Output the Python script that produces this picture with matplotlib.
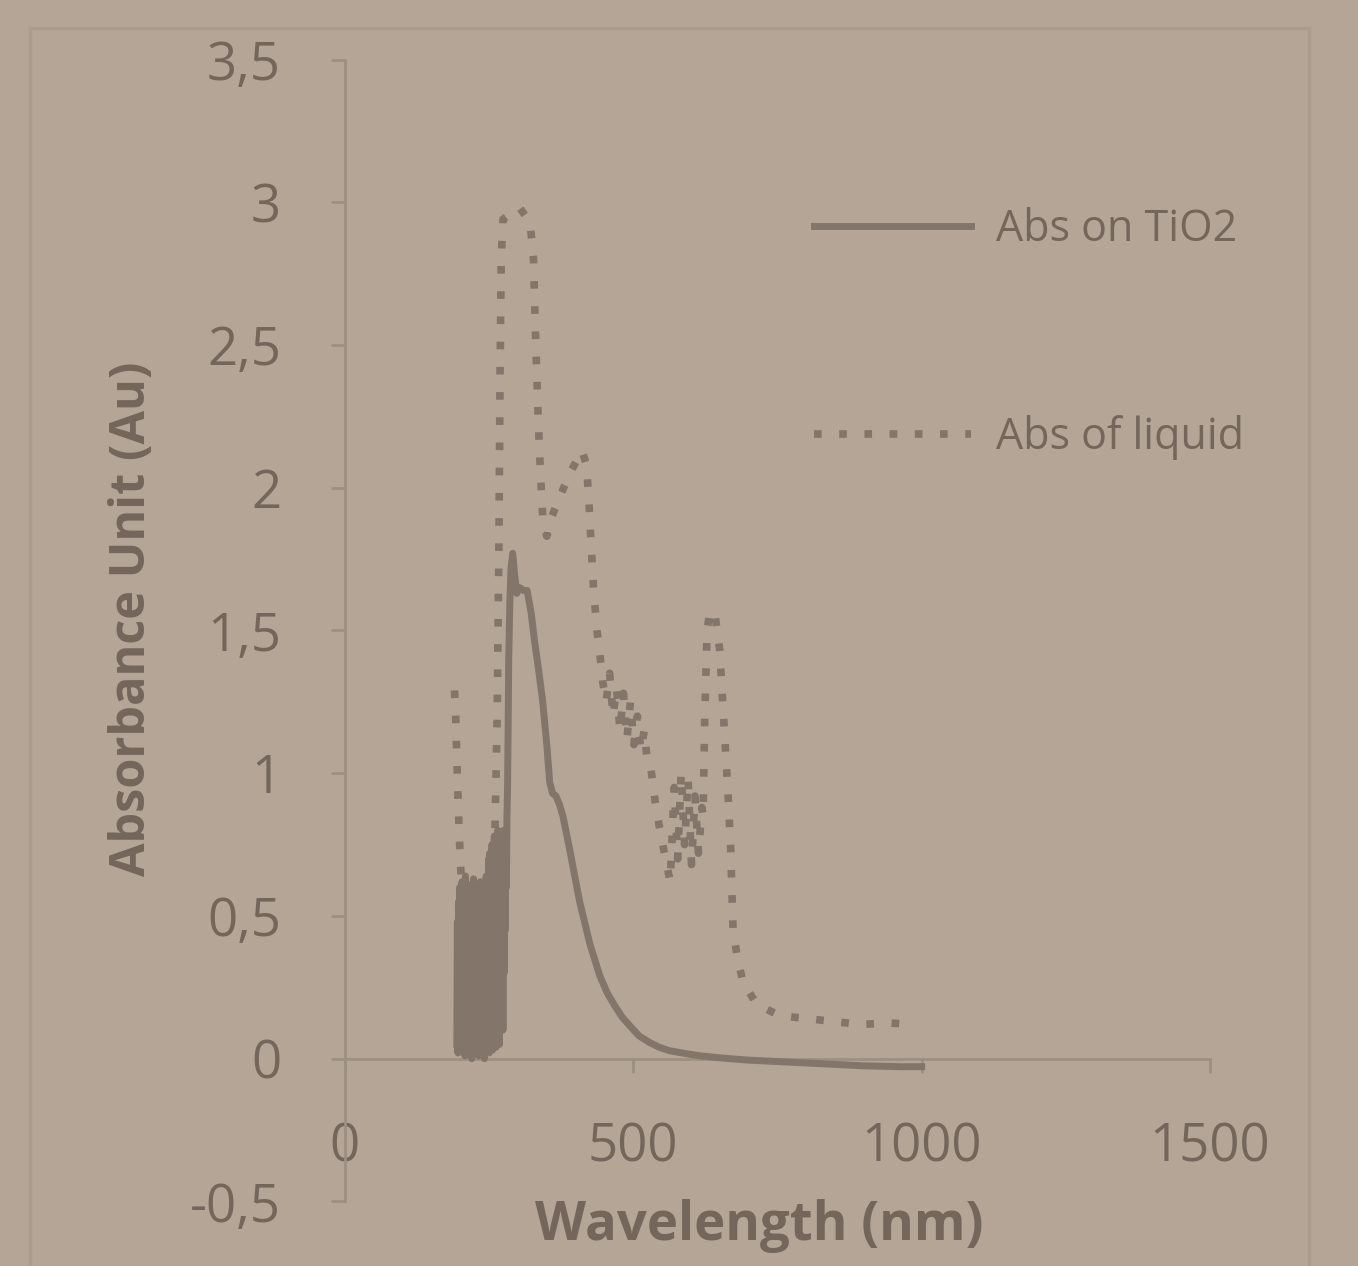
import matplotlib
matplotlib.use("Agg")
import matplotlib.pyplot as plt
from matplotlib.patches import Rectangle

# ---------------- data ----------------
# noisy region of the TiO2 trace, 1 nm steps from 194 to 284 nm
tio2_noisy_wl = list(range(194, 285))
tio2_noisy_abs = [0.05, 0.48, 0.02, 0.55, 0.08, 0.60, 0.03, 0.52, 0.10, 0.62,
                  0.04, 0.45, 0.07, 0.58, 0.01, 0.64, 0.06, 0.50, 0.02, 0.57,
                  0.09, 0.61, 0.03, 0.47, 0.05, 0.59, 0.00, 0.55, 0.08, 0.63,
                  0.02, 0.50, 0.06, 0.58, 0.03, 0.60, 0.09, 0.44, 0.01, 0.56,
                  0.05, 0.62, 0.02, 0.49, 0.07, 0.57, 0.03, 0.60, 0.00, 0.52,
                  0.06, 0.64, 0.04, 0.55, 0.08, 0.70, 0.02,
                  0.72, 0.05, 0.68, 0.10, 0.75, 0.03, 0.66, 0.12, 0.78, 0.06,
                  0.70, 0.04, 0.74, 0.15, 0.80, 0.08, 0.72, 0.05, 0.76, 0.12,
                  0.79, 0.20, 0.75, 0.10, 0.80, 0.30, 0.78, 0.45, 0.80, 0.60,
                  0.85, 0.95, 1.15, 1.40]
tio2_main_wl = [286, 288, 291, 294, 298, 303, 310, 316, 323, 329, 336, 343, 350,
                355, 360, 366, 372, 378, 390, 407, 425, 442, 455, 468, 481, 494,
                510, 529, 545, 563, 590, 616, 640, 668, 700, 750, 790, 850, 900,
                965, 1000]
tio2_main_abs = [1.60, 1.72, 1.77, 1.70, 1.63, 1.65, 1.64, 1.64, 1.56, 1.46,
                 1.36, 1.25, 1.10, 0.97, 0.93, 0.92, 0.89, 0.85, 0.73, 0.55,
                 0.40, 0.29, 0.23, 0.185, 0.145, 0.115, 0.08, 0.056, 0.04, 0.028,
                 0.018, 0.010, 0.005, 0.0, -0.005, -0.010, -0.014, -0.020,
                 -0.025, -0.028, -0.028]

liq_wl = [190, 192, 194, 196, 198, 200, 202, 205, 208, 211, 214, 217, 220, 223,
          226, 229, 232, 236, 240, 244, 248, 252, 256, 260, 264, 267, 269, 271,
          274, 287, 303, 321, 327, 331, 335, 339, 343, 350, 359, 373, 390, 403,
          411, 419, 423, 427, 431, 437, 442, 447, 453, 459, 465, 471, 477, 483,
          489, 495, 501, 507, 513, 519, 524, 529, 538, 547, 556, 564, 571, 577,
          583, 589, 595, 601, 607, 613, 619, 621, 624, 628, 633, 642, 650, 655,
          660, 665, 669, 673, 680, 690, 714, 755, 804, 848, 895, 944, 985]
liq_abs = [1.29, 1.20, 1.05, 0.92, 0.80, 0.70, 0.62, 0.50, 0.58, 0.40, 0.52, 0.30,
           0.48, 0.25, 0.42, 0.22, 0.38, 0.20, 0.35, 0.25, 0.45, 0.30, 0.55, 0.78,
           1.20, 1.80, 2.40, 2.80, 2.94, 2.96, 2.98, 2.93, 2.80, 2.50, 2.25, 2.05,
           1.90, 1.83, 1.90, 1.97, 2.05, 2.10, 2.13, 2.08, 1.95, 1.80, 1.65, 1.50,
           1.42, 1.32, 1.25, 1.35, 1.20, 1.30, 1.15, 1.28, 1.12, 1.25, 1.10, 1.20,
           1.08, 1.15, 1.05, 1.04, 0.90, 0.79, 0.70, 0.62, 0.95, 0.70, 1.00, 0.75,
           0.98, 0.68, 0.92, 0.72, 0.88, 0.85, 1.20, 1.50, 1.57, 1.55, 1.43, 1.25,
           1.08, 0.90, 0.73, 0.45, 0.36, 0.27, 0.19, 0.15, 0.14, 0.13, 0.12, 0.125,
           0.12]

y_ticks = [-0.5, 0, 0.5, 1, 1.5, 2, 2.5, 3, 3.5]
y_tick_labels = ["-0,5", "0", "0,5", "1", "1,5", "2", "2,5", "3", "3,5"]
x_ticks = [0, 500, 1000, 1500]
x_tick_labels = ["0", "500", "1000", "1500"]

tio2_wl = tio2_noisy_wl + tio2_main_wl
tio2_abs = tio2_noisy_abs + tio2_main_abs

# ---------------- style ----------------
BG = "#b4a597"
INK = "#74665b"
LINE = "#83756a"
AXC = "#9d8f82"
FONT = ["Open Sans", "DejaVu Sans"]

plt.rcParams["font.family"] = FONT

fig = plt.figure(figsize=(13.58, 12.66), dpi=100, facecolor=BG)
ax = fig.add_axes([0.254, 0.051, 0.637, 0.902])
ax.set_facecolor(BG)

# faint chart-area frame
fig.patches.append(Rectangle((0.022, -0.02), 0.942, 0.998, transform=fig.transFigure,
                             fill=False, edgecolor="#ab9c8e", linewidth=2.5))

ax.plot(tio2_wl, tio2_abs, color=LINE, linewidth=5, solid_joinstyle="round",
        label="Abs on TiO2", zorder=3)
ax.plot(liq_wl, liq_abs, color=LINE, linewidth=5.5, linestyle=(0, (1, 2.3)),
        label="Abs of liquid", zorder=2)

ax.set_xlim(0, 1500)
ax.set_ylim(-0.5, 3.5)

for s in ["top", "right"]:
    ax.spines[s].set_visible(False)
ax.spines["left"].set_position(("data", 0))
ax.spines["bottom"].set_position(("data", 0))
for s in ["left", "bottom"]:
    ax.spines[s].set_color(AXC)
    ax.spines[s].set_linewidth(2)

ax.set_yticks(y_ticks)
ax.set_yticklabels(y_tick_labels)
ax.set_xticks(x_ticks)
ax.set_xticklabels(x_tick_labels)
ax.tick_params(axis="y", direction="out", length=10, width=2, color=AXC,
               labelsize=38, labelcolor=INK, pad=36)
ax.tick_params(axis="x", direction="out", length=10, width=2, color=AXC,
               labelsize=38, labelcolor=INK, pad=35)

ax.set_xlabel("Wavelength (nm)", fontsize=38, fontweight="bold", color=INK)
ax.set_ylabel("Absorbance Unit (Au)", fontsize=35, fontweight="bold", color=INK)
ax.xaxis.set_label_coords(0.479, 0.002)
ax.yaxis.set_label_coords(-0.217, 0.51)

leg = ax.legend(loc="upper left", bbox_to_anchor=(0.497, 0.904), frameon=False,
                fontsize=31, labelcolor=INK, handlelength=3.65, handletextpad=0.58,
                labelspacing=3.78)

fig.savefig("out.png", dpi=100, facecolor=BG)
